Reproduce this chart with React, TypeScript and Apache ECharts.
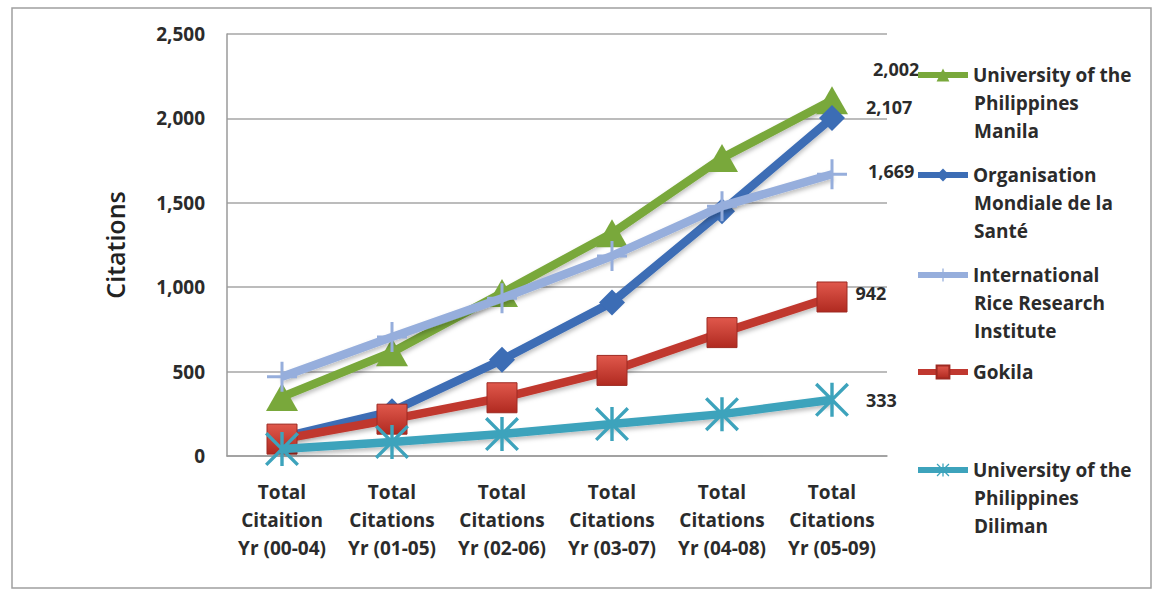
import React, { useEffect, useRef } from "react";
import * as echarts from "echarts";

const categories = [
  "Total\nCitaition\nYr (00-04)",
  "Total\nCitations\nYr (01-05)",
  "Total\nCitations\nYr (02-06)",
  "Total\nCitations\nYr (03-07)",
  "Total\nCitations\nYr (04-08)",
  "Total\nCitations\nYr (05-09)",
];

const seriesNames = [
  "University of the Philippines Manila",
  "Organisation Mondiale de la Santé",
  "International Rice Research Institute",
  "Gokila",
  "University of the Philippines Diliman",
];

const legendLines = [
  ["University of the", "Philippines", "Manila"],
  ["Organisation", "Mondiale de la", "Santé"],
  ["International", "Rice Research", "Institute"],
  ["Gokila"],
  ["University of the", "Philippines", "Diliman"],
];

const upManila = [350, 615, 965, 1320, 1765, 2107];
const oms = [110, 265, 570, 910, 1450, 2002];
const irri = [470, 705, 935, 1185, 1480, 1669];
const gokila = [100, 218, 345, 507, 731, 942];
const upDiliman = [41, 83, 130, 189, 248, 333];

const endLabels = ["2,002", "2,107", "1,669", "942", "333"];

const yTicks = [0, 500, 1000, 1500, 2000, 2500];

const FONT = "'Open Sans', Lato, sans-serif";

export default function App() {
  const ref = useRef<HTMLDivElement>(null);
  useEffect(() => {
    if (!ref.current) return;
    const chart = echarts.init(ref.current, null, { renderer: "svg" });

    const colors = ["#79A83B", "#3C6DB5", "#96AEDC", "#C0382F", "#3DA3BC"];
    const symbols = [
      "triangle",
      "diamond",
      "path://M9,0h2v20h-2z M0,9h20v2h-20z",
      "rect",
      "path://M9,0h2v20h-2z M1.4,0 L10,8.6 L18.6,0 L20,1.4 L11.4,10 L20,18.6 L18.6,20 L10,11.4 L1.4,20 L0,18.6 L8.6,10 L0,1.4z",
    ];
    const sizes: any[] = [[32, 28], [26, 26], [30, 30], [30, 30], [34, 34]];
    const labelOffsets: any[] = [[20, -31], [16, -11], [16, -3], [3, -4], [12, 0]];
    const dataSets = [upManila, oms, irri, gokila, upDiliman];
    const firstLineCenters = [75, 175, 275, 372, 470];

    const series = dataSets.map((d, i) => ({
      name: seriesNames[i],
      type: "line",
      data: d,
      symbol: symbols[i],
      symbolSize: sizes[i],
      lineStyle: {
        width: 8.5,
        color: colors[i],
        shadowColor: "rgba(0,0,0,0.25)",
        shadowBlur: 4,
        shadowOffsetY: 3,
      },
      itemStyle: {
        color:
          i === 3
            ? new echarts.graphic.LinearGradient(0, 0, 0, 1, [
                { offset: 0, color: "#E0584C" },
                { offset: 1, color: "#B02A20" },
              ])
            : colors[i],
        borderColor: i === 3 ? "#9E2A22" : colors[i],
        borderWidth: i === 3 ? 1 : 0,
      },
      label: {
        show: true,
        position: "right",
        offset: labelOffsets[i],
        fontFamily: FONT,
        fontWeight: "bold",
        fontSize: 18,
        color: "#2b2b2b",
        formatter: (p: any) => (p.dataIndex === d.length - 1 ? endLabels[i] : ""),
      },
      z: 2 + i,
    }));

    const legends = seriesNames.map((n, i) => ({
      data: [n],
      orient: "vertical",
      left: 915,
      top: firstLineCenters[i] - 14,
      padding: 0,
      itemWidth: 50,
      itemHeight: 16,
      itemGap: 0,
      lineStyle: { width: 6 },
      formatter: () => legendLines[i][0],
      textStyle: {
        fontFamily: FONT,
        fontWeight: "bold",
        fontSize: 19,
        lineHeight: 28,
        color: "#2b2b2b",
      },
      selectedMode: false,
    }));

    const legendExtra: any[] = [];
    legendLines.forEach((lines, i) => {
      lines.slice(1).forEach((t, k) => {
        legendExtra.push({
          type: "text",
          left: 974,
          top: firstLineCenters[i] + 28 * (k + 1) - 14,
          style: {
            text: t,
            fontFamily: FONT,
            fontWeight: "bold",
            fontSize: 19,
            lineHeight: 28,
            fill: "#2b2b2b",
          },
          silent: true,
        });
      });
    });

    chart.setOption({
      animation: false,
      backgroundColor: "#ffffff",
      grid: { left: 227, right: 276, top: 34, bottom: 135 },
      legend: legends,
      xAxis: {
        type: "category",
        data: categories,
        boundaryGap: true,
        axisTick: { show: false },
        axisLine: { lineStyle: { color: "#9a9a9a", width: 1.5 } },
        axisLabel: {
          margin: 22,
          fontFamily: FONT,
          fontWeight: "bold",
          fontSize: 19,
          lineHeight: 28,
          color: "#2b2b2b",
          interval: 0,
        },
      },
      yAxis: {
        type: "value",
        min: yTicks[0],
        max: yTicks[yTicks.length - 1],
        interval: 500,
        name: "Citations",
        nameLocation: "middle",
        nameGap: 100,
        nameRotate: 90,
        nameTextStyle: {
          fontFamily: FONT,
          fontSize: 25,
          fontWeight: 600,
          color: "#222",
        },
        axisLine: { show: true, lineStyle: { color: "#9a9a9a", width: 1.5 } },
        axisTick: { show: false },
        splitLine: { lineStyle: { color: "#a6a6a6", width: 1.5 } },
        axisLabel: {
          margin: 22,
          fontFamily: FONT,
          fontWeight: "bold",
          fontSize: 19,
          color: "#2b2b2b",
          formatter: (v: number) => v.toLocaleString("en-US"),
        },
      },
      graphic: [
        {
          type: "rect",
          shape: { x: 12, y: 8, width: 1139, height: 580 },
          style: { fill: "none", stroke: "#a0a0a0", lineWidth: 1.5 },
          silent: true,
        },
        ...legendExtra,
      ],
      series,
    });
    return () => chart.dispose();
  }, []);
  return (
    <div
      ref={ref}
      style={{ position: "absolute", left: 0, top: 0, width: 1163, height: 591 }}
    />
  );
}
